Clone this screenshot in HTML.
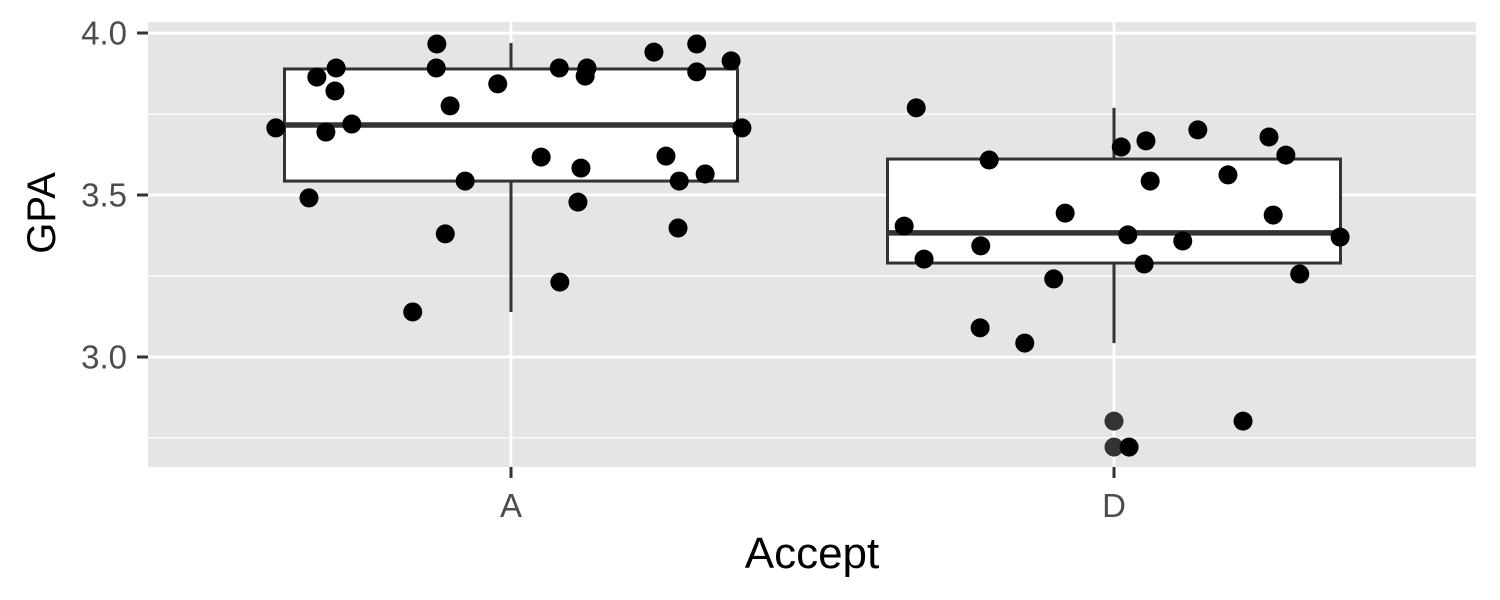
<!DOCTYPE html>
<html><head><meta charset="utf-8"><style>
body{margin:0;background:#fff}
svg{display:block;font-family:"Liberation Sans",sans-serif}
</style></head><body>
<svg id="chart" width="1500" height="600"></svg>
<script>
const categories=["A","D"];
const yTicks=[3.0,3.5,4.0];
const yMinor=[2.75,3.25,3.75];
const boxLower=[3.543,3.290];
const boxMedian=[3.716,3.383];
const boxUpper=[3.889,3.611];
const whiskerLow=[3.139,3.043];
const whiskerHigh=[3.969,3.769];
const outlierCat=[1,1];
const outlierVal=[2.802,2.722];
const aGpa=[3.707,3.491,3.864,3.694,3.892,3.821,3.719,3.139,3.966,3.892,3.380,3.775,3.543,3.843,3.617,3.892,3.231,3.478,3.583,3.867,3.892,3.941,3.620,3.398,3.543,3.966,3.880,3.565,3.914,3.707];
const aJit=[-0.390,-0.335,-0.322,-0.307,-0.290,-0.292,-0.264,-0.163,-0.123,-0.124,-0.109,-0.101,-0.076,-0.022,0.050,0.080,0.081,0.111,0.116,0.123,0.126,0.237,0.257,0.277,0.279,0.308,0.308,0.322,0.365,0.383];
const dGpa=[3.404,3.769,3.302,3.343,3.090,3.608,3.043,3.241,3.444,3.648,3.377,2.722,3.287,3.667,3.543,3.358,3.701,3.562,2.802,3.679,3.438,3.623,3.256,3.370];
const dJit=[-0.348,-0.328,-0.315,-0.221,-0.222,-0.207,-0.148,-0.100,-0.081,0.012,0.023,0.025,0.050,0.053,0.060,0.114,0.139,0.189,0.214,0.257,0.264,0.285,0.308,0.375];

const svg=document.getElementById('chart');
const NS='http://www.w3.org/2000/svg';
const P={l:148,r:1476,t:22,b:467};
const y=v=>33+(4-v)*324;
const x=c=>511+c*603;
function el(t,a){const e=document.createElementNS(NS,t);for(const k in a)e.setAttribute(k,a[k]);svg.appendChild(e);return e;}

const panel=el('rect',{x:P.l,y:P.t,width:P.r-P.l,height:P.b-P.t,fill:'#e5e5e5'});


yMinor.forEach(v=>{const g=el('line',{x1:P.l,x2:P.r,y1:y(v),y2:y(v),stroke:'#fff','stroke-width':1.3});

});
yTicks.forEach(v=>{const g=el('line',{x1:P.l,x2:P.r,y1:y(v),y2:y(v),stroke:'#fff','stroke-width':2.7});


const t=el('line',{x1:137,x2:148,y1:y(v),y2:y(v),stroke:'#333','stroke-width':3});


const l=el('text',{x:127,y:y(v)+11.5,'text-anchor':'end',style:'font-size:33px',fill:'#4d4d4d'});l.textContent=v.toFixed(1);

});
categories.forEach((c,i)=>{const g=el('line',{x1:x(i),x2:x(i),y1:P.t,y2:P.b,stroke:'#fff','stroke-width':2.7});


const t=el('line',{x1:x(i),x2:x(i),y1:P.b,y2:P.b+11,stroke:'#333','stroke-width':3});


const l=el('text',{x:x(i),y:517,'text-anchor':'middle',style:'font-size:33px',fill:'#4d4d4d'});l.textContent=c;

});

categories.forEach((c,i)=>{const hw=226.5;
const w1=el('line',{x1:x(i),x2:x(i),y1:y(whiskerHigh[i]),y2:y(boxUpper[i]),stroke:'#333','stroke-width':3});


const w2=el('line',{x1:x(i),x2:x(i),y1:y(boxLower[i]),y2:y(whiskerLow[i]),stroke:'#333','stroke-width':3});


const b=el('rect',{x:x(i)-hw,y:y(boxUpper[i]),width:hw*2,height:y(boxLower[i])-y(boxUpper[i]),fill:'#fff',stroke:'#333','stroke-width':3});


const m=el('line',{x1:x(i)-hw,x2:x(i)+hw,y1:y(boxMedian[i]),y2:y(boxMedian[i]),stroke:'#333','stroke-width':5.5});

});
outlierVal.forEach((v,k)=>{const o=el('circle',{cx:x(outlierCat[k]),cy:y(v),r:9.5,fill:'#333'});

});
function pts(g,j,ci){g.forEach((v,k)=>{const p=el('circle',{cx:x(ci+j[k]),cy:y(v),r:9.5,fill:'#000'});

});}
pts(aGpa,aJit,0);pts(dGpa,dJit,1);

const xt=el('text',{x:812,y:568,'text-anchor':'middle',style:'font-size:44px',fill:'#000'});xt.textContent='Accept';


const yt=el('text',{x:0,y:0,'text-anchor':'middle',style:'font-size:40px',fill:'#000',transform:'translate(55,213) rotate(-90)'});yt.textContent='GPA';


</script>
</body></html>
